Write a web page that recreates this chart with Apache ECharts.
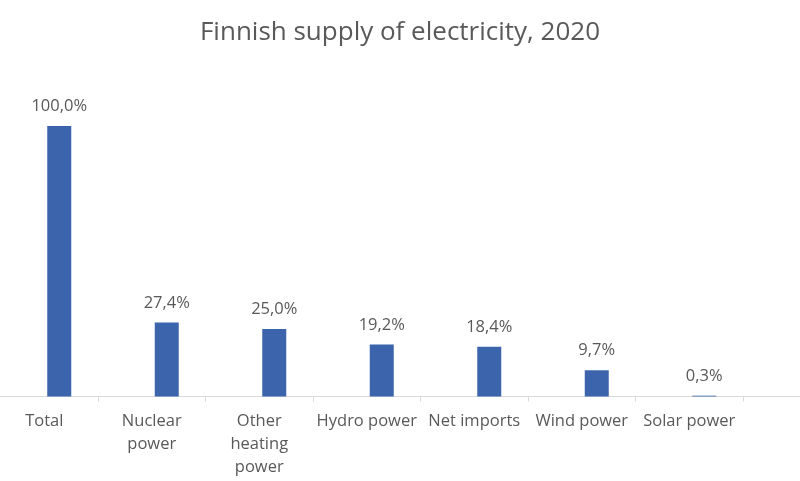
<!DOCTYPE html>
<html>
<head>
<meta charset="utf-8">
<script src="https://cdn.jsdelivr.net/npm/echarts@6/dist/echarts.min.js"></script>
<style>html,body{margin:0;padding:0;background:#fff}#c{width:800px;height:481px}</style>
</head>
<body>
<div id="c"></div>
<script>
const titleText = 'Finnish supply of electricity, 2020';
const categories = ['Total', 'Nuclear\npower', 'Other\nheating\npower', 'Hydro power', 'Net imports', 'Wind power', 'Solar power', ''];
const shareValues = [100.0, 27.4, 25.0, 19.2, 18.4, 9.7, 0.3, null];
const placeholderValues = [null, null, null, null, null, null, null, null];

const chart = echarts.init(document.getElementById('c'), null, {renderer: 'canvas'});
const FONT = '"Open Sans", sans-serif';
chart.setOption({
  animation: false,
  backgroundColor: '#ffffff',
  title: {
    text: titleText,
    left: 'center',
    top: 15,
    textStyle: {fontFamily: FONT, fontSize: 26, fontWeight: 'normal', color: '#595959'}
  },
  grid: {left: -9.5, right: -50.5, top: 71.9, bottom: 84.5, containLabel: false, outerBoundsMode: 'none'},
  xAxis: {
    type: 'category',
    data: categories,
    axisLine: {lineStyle: {color: '#d9d9d9', width: 1}},
    axisTick: {show: true, length: 5, lineStyle: {color: '#d9d9d9'}},
    axisLabel: {interval: 0, margin: 13, fontFamily: FONT, fontSize: 16.5, lineHeight: 23, color: '#595959'}
  },
  yAxis: {type: 'value', min: 0, max: 120, show: false, splitLine: {show: false}},
  series: [
    {type: 'bar', data: placeholderValues, barWidth: 24, barGap: '25%', itemStyle: {color: '#3b64ad'}},
    {
      type: 'bar', data: shareValues, barWidth: 24, barGap: '25%',
      itemStyle: {color: '#3b64ad'},
      label: {
        show: true, position: 'top', distance: 11,
        fontFamily: FONT, fontSize: 16.5, color: '#595959',
        formatter: p => p.value == null ? '' : p.value.toFixed(1).replace('.', ',') + '%'
      }
    }
  ]
});
</script>
</body>
</html>
